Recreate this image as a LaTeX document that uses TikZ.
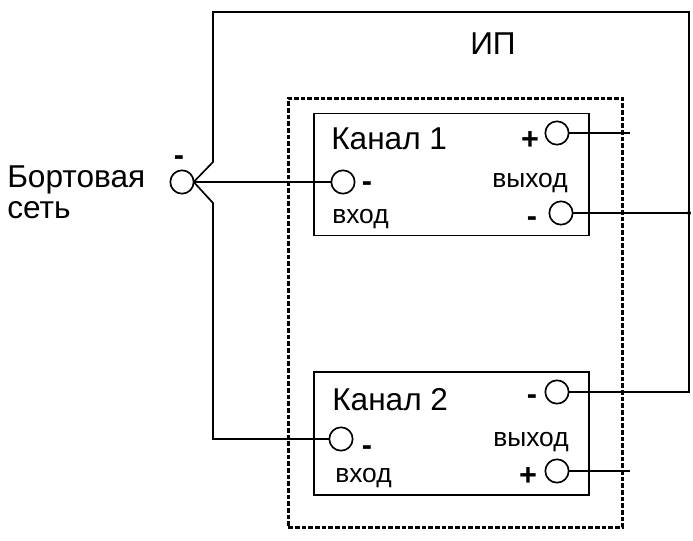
\documentclass[tikz,border=0pt]{standalone}
\usepackage{fontspec}
\setmainfont{Liberation Sans}
\usetikzlibrary{calc}
\newcommand{\outerx}{689}
\newcommand{\outery}{12}
\newcommand{\branchx}{213}
\newcommand{\stubx}{630}
\begin{document}
\begin{tikzpicture}[x=0.75pt,y=-0.75pt]
\tikzstyle{wire}=[line width=1.25pt]
\tikzstyle{term}=[draw,circle,line width=1.25pt,minimum size=17.5pt,inner sep=0pt,outer sep=0pt]
\tikzstyle{chanbox}=[draw,line width=1.4pt,inner sep=0pt,outer sep=0pt,anchor=north west,minimum width=206pt]
\tikzstyle{biglabel}=[inner sep=0pt,anchor=base west,font=\fontsize{23.7}{24}\selectfont]
\tikzstyle{smalllabel}=[inner sep=0pt,anchor=base west,font=\fontsize{19.8}{20}\selectfont]
\tikzstyle{sign}=[inner sep=0pt,anchor=base,font=\bfseries\fontsize{23}{23}\selectfont]

\useasboundingbox (0,0) rectangle (693,541);

% shield
\node (shield) [draw,line width=2pt,dash pattern=on 3.6pt off 1.4pt,inner sep=0pt,anchor=north west,
  minimum width=250.5pt,minimum height=321.75pt] at (287,97) {};

% channels
\node (chanone) [chanbox,minimum height=91.5pt] at (314,113.5) {};
\node (chantwo) [chanbox,minimum height=92.25pt] at (314,372) {};

% terminals
\node (net) [term] at (182,182) {};
\node (inone) [term] at (343,182) {};
\node (plusone) [term] at (557,133) {};
\node (minusone) [term] at (561,213) {};
\node (intwo) [term] at (341,439) {};
\node (minustwo) [term] at (557,392) {};
\node (plustwo) [term] at (557,471) {};

% corners of the wires
\coordinate (upperbend) at (\branchx,162);
\coordinate (lowerbend) at (\branchx,203);
\coordinate (topleft) at (\branchx,\outery);
\coordinate (topright) at (\outerx,\outery);
\coordinate (joint) at (\outerx,213);
\coordinate (bottomright) at (\outerx,392);
\coordinate (bottomleft) at (\branchx,439);
\coordinate (stubone) at (\stubx,133);
\coordinate (stubtwo) at (\stubx,471);

\draw[wire] (net.east) -- (inone.west);
\draw[wire,line join=miter] (net.east) -- (upperbend) -- (topleft) -- (topright) -- (bottomright) -- (minustwo.east);
\draw[wire] (net.east) -- (lowerbend) -- (bottomleft) -- (intwo.west);
\draw[wire] (plusone.east) -- (stubone);
\draw[wire] (minusone.east) -- (joint);
\draw[wire] (plustwo.east) -- (stubtwo);
\fill (joint) circle [radius=1.5pt];

% labels
\node (ip) [biglabel] at (470,55) {ИП};
\node (netone) [biglabel] at (7,188) {Бортовая};
\node (nettwo) [biglabel] at (7,219) {сеть};
\node (chanonetext) [biglabel] at (331,150) {Канал 1};
\node (chantwotext) [biglabel] at (332,411) {Канал 2};
\node (inonetext) [smalllabel] at (332,224) {вход};
\node (outonetext) [smalllabel] at (492,188) {выход};
\node (intwotext) [smalllabel] at (335,483) {вход};
\node (outtwotext) [smalllabel] at (493,447) {выход};

% signs
\node (netsign) [sign] at (179,166) {-};
\node (inonesign) [sign] at (367,192) {-};
\node (intwosign) [sign] at (367,456) {-};
\node (plusonesign) [sign] at (530,150) {+};
\node (minusonesign) [sign] at (532,227) {-};
\node (minustwosign) [sign] at (532,405) {-};
\node (plustwosign) [sign] at (528,486) {+};
\end{tikzpicture}
\end{document}
